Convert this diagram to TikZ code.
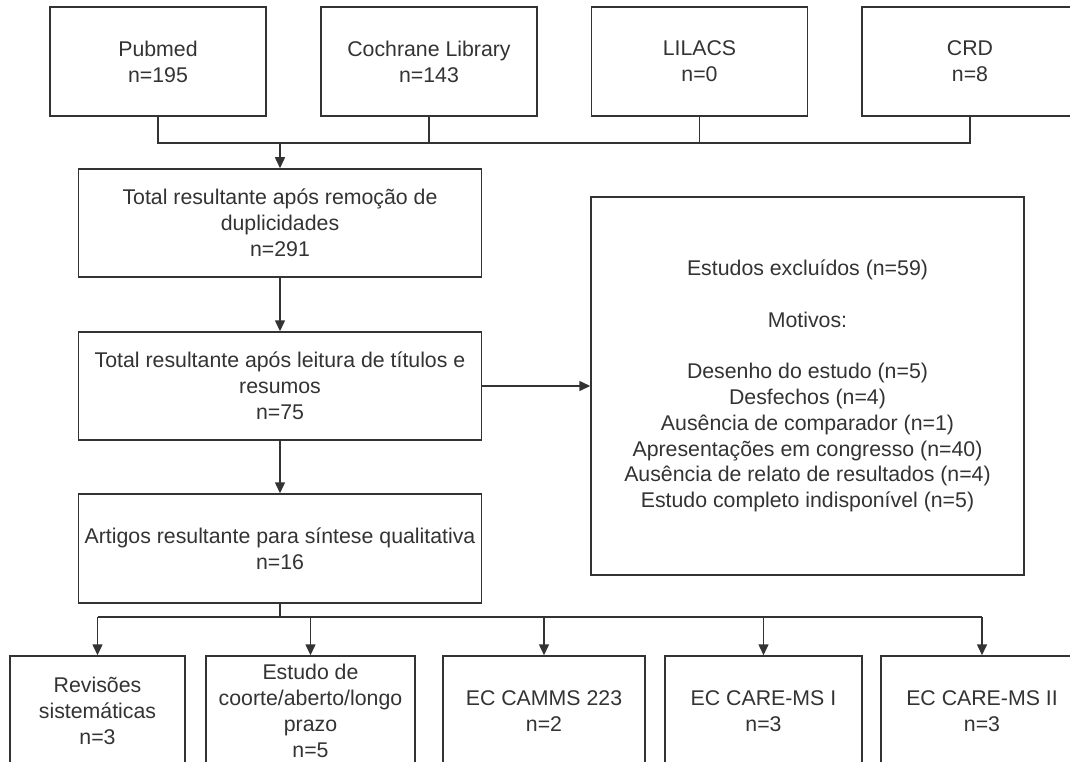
\documentclass[tikz,border=0pt]{standalone}
\usepackage{fontspec}
\setmainfont{Liberation Sans}
\usetikzlibrary{arrows.meta}
\definecolor{ink}{HTML}{333333}
\tikzset{
  box/.style={draw=ink, line width=1.5pt, fill=white, inner sep=0pt, align=center, text=ink,
    font=\fontsize{21.3}{25.8}\selectfont},
  topbox/.style={box, minimum width=216pt, minimum height=109pt},
  midbox/.style={box, minimum width=403pt, minimum height=108pt},
  botbox/.style={box, minimum height=110pt},
  link/.style={draw=ink, line width=1.5pt},
  arr/.style={link, -{Triangle[length=11pt,width=10pt]}}
}
\begin{document}
\begin{tikzpicture}[x=1pt,y=-1pt]
\clip (0,0) rectangle (1070,762);
\fill[white] (0,0) rectangle (1070,762);
% sources
\node[topbox] (pub)  at (158,61.5)   {Pubmed\\n=195};
\node[topbox] (coch) at (429,61.5)   {Cochrane Library\\n=143};
\node[topbox] (lil)  at (699.5,61.5) {LILACS\\n=0};
\node[topbox] (crd)  at (970,61.5)   {CRD\\n=8};
% main column
\node[midbox] (dup) at (280,223)   {Total resultante após remoção de\\duplicidades\\n=291};
\node[midbox] (tit) at (280,386)   {Total resultante após leitura de títulos e\\resumos\\n=75};
\node[midbox, minimum height=109pt] (art) at (280,548.5) {Artigos resultante para síntese qualitativa\\n=16};
% exclusions
\node[box, minimum width=433pt, minimum height=378pt] (exc) at (807.5,386)
  {Estudos excluídos (n=59)\\[25.8pt]Motivos:\\[25.8pt]Desenho do estudo (n=5)\\Desfechos (n=4)\\Ausência de comparador (n=1)\\Apresentações em congresso (n=40)\\Ausência de relato de resultados (n=4)\\Estudo completo indisponível (n=5)};
% bottom row
\node[botbox, minimum width=175pt] (rev)  at (97.5,711)  {Revisões\\sistemáticas\\n=3};
\node[botbox, minimum width=209pt] (coo)  at (310.5,711) {Estudo de\\coorte/aberto/longo\\prazo\\n=5};
\node[botbox, minimum width=202pt] (cam)  at (544,711)   {EC CAMMS 223\\n=2};
\node[botbox, minimum width=197pt] (care1) at (763.5,711) {EC CARE-MS I\\n=3};
\node[botbox, minimum width=202pt] (care2) at (982,711)  {EC CARE-MS II\\n=3};
% top bus
\coordinate (tb) at (280,143);
\draw[link] (pub.south) |- (crd.south |- tb) -- (crd.south);
\draw[link] (coch.south) -- (coch.south |- tb);
\draw[link] (lil.south) -- (lil.south |- tb);
\draw[arr] (tb) -- (dup.north);
\draw[arr] (dup.south) -- (tit.north);
\draw[arr] (tit.south) -- (art.north);
\draw[arr] (tit.east) -- (exc.west);
% bottom bus
\coordinate (bb) at (280,617);
\draw[link] (art.south) -- (bb);
\draw[link] (rev.north |- bb) -- (care2.north |- bb);
\foreach \n in {rev,coo,cam,care1,care2}
  \draw[arr] (\n.north |- bb) -- (\n.north);
\end{tikzpicture}
\end{document}
